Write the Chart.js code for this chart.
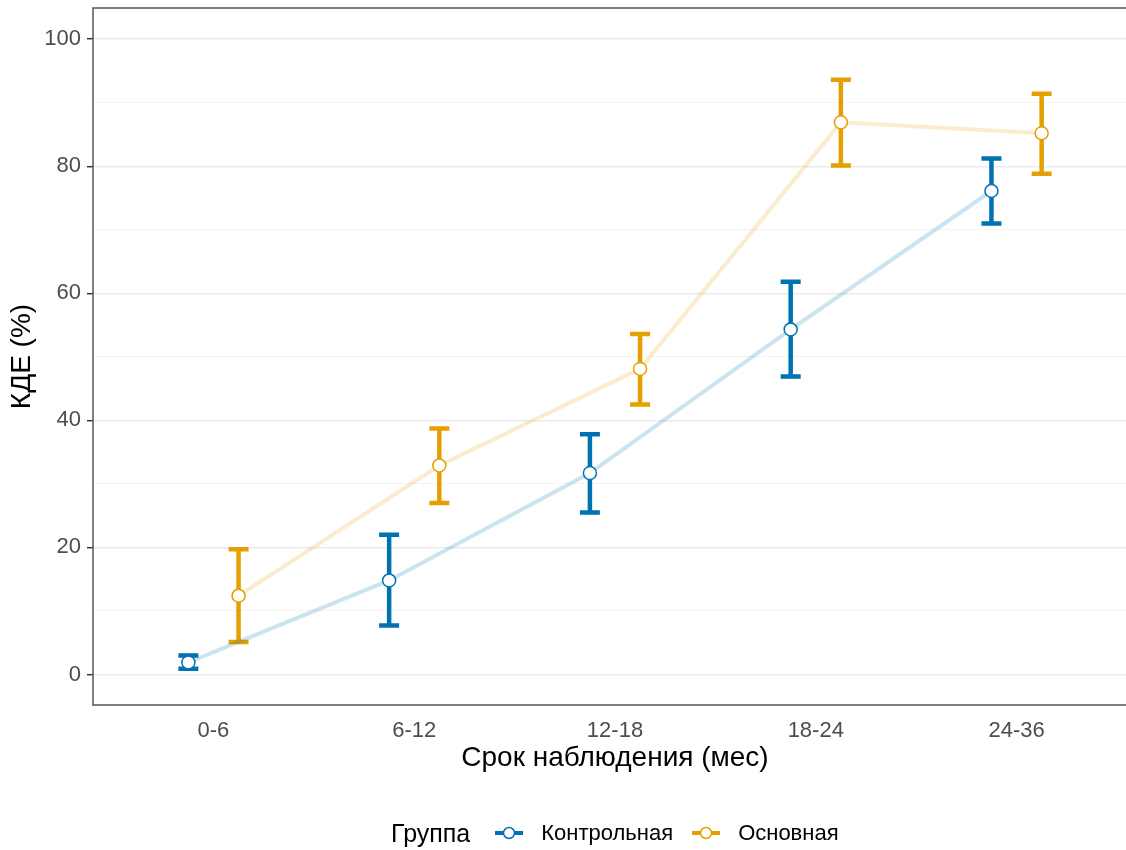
<!DOCTYPE html>
<html>
<head>
<meta charset="utf-8">
<script src="https://cdn.jsdelivr.net/npm/chart.js@4/dist/chart.umd.min.js"></script>
<style>
  html, body { margin: 0; background: #fff; overflow: hidden; font-family: "Liberation Sans", Arial, sans-serif; }
  #wrap { position: relative; width: 1126px; height: 850px; overflow: hidden; }
  #legend { position: absolute; left: 391px; top: 817px; height: 32px; display: flex; align-items: center; color: #000; white-space: nowrap; }
  #legend .title { font-size: 25px; margin-right: 25px; }
  #legend .item { display: flex; align-items: center; font-size: 22px; margin-right: 19px; }
  #legend svg { margin-right: 18px; }
</style>
</head>
<body>
<div id="wrap">
  <canvas id="chart" width="1137" height="850"></canvas>
  <div id="legend"></div>
</div>
<script>
// данные
const categories = ['0-6', '6-12', '12-18', '18-24', '24-36'];
const groupNames = ['Контрольная', 'Основная'];
const controlMean = [1.9, 14.8, 31.7, 54.3, 76.1];
const controlLow = [0.9, 7.7, 25.5, 46.9, 71.0];
const controlHigh = [3.0, 22.0, 37.8, 61.8, 81.2];
const mainMean = [12.4, 32.9, 48.1, 86.9, 85.2];
const mainLow = [5.1, 27.0, 42.5, 80.1, 78.8];
const mainHigh = [19.7, 38.7, 53.6, 93.6, 91.4];
const yTicks = [0, 10, 20, 30, 40, 50, 60, 70, 80, 90, 100];

const colors = ['#0072B2', '#E69F00'];
const fadedColors = ['rgba(0,114,178,0.2)', 'rgba(230,159,0,0.2)'];
const dodge = 0.125;

function makePoints(means, lows, highs, shift) {
    return means.map((m, i) => ({ x: i + 1 + shift, y: m, low: lows[i], high: highs[i] }));
}

const series = [
    makePoints(controlMean, controlLow, controlHigh, -dodge),
    makePoints(mainMean, mainLow, mainHigh, dodge)
];

// усы ошибок под линиями
const errorBars = {
    id: 'errorBars',
    beforeDatasetsDraw(chart) {
        const { ctx, scales: { x, y } } = chart;
        ctx.save();
        ctx.lineWidth = 4.5;
        ctx.lineCap = 'butt';
        chart.data.datasets.forEach((ds, di) => {
            ctx.strokeStyle = colors[di];
            ds.data.forEach(p => {
                const px = x.getPixelForValue(p.x);
                const yl = y.getPixelForValue(p.low);
                const yh = y.getPixelForValue(p.high);
                ctx.beginPath();
                ctx.moveTo(px, yl); ctx.lineTo(px, yh);
                ctx.moveTo(px - 10, yl); ctx.lineTo(px + 10, yl);
                ctx.moveTo(px - 10, yh); ctx.lineTo(px + 10, yh);
                ctx.stroke();
            });
        });
        ctx.restore();
    }
};

// рамка панели
const panelBorder = {
    id: 'panelBorder',
    afterDraw(chart) {
        const { ctx, chartArea: a } = chart;
        ctx.save();
        ctx.strokeStyle = '#555';
        ctx.lineWidth = 1.5;
        ctx.strokeRect(a.left, a.top, a.right - a.left, a.bottom - a.top);
        ctx.restore();
    }
};

const ctx = document.getElementById('chart').getContext('2d');
new Chart(ctx, {
    type: 'line',
    data: {
        datasets: series.map((pts, i) => ({
            label: groupNames[i],
            data: pts,
            borderColor: fadedColors[i],
            borderWidth: 4,
            pointRadius: 6.5,
            pointBorderWidth: 1.5,
            pointBackgroundColor: '#fff',
            pointBorderColor: colors[i],
            tension: 0
        }))
    },
    options: {
        responsive: false,
        animation: false,
        layout: { autoPadding: false, padding: { top: 8, right: 0, left: 0, bottom: 0 } },
        plugins: { legend: { display: false }, tooltip: { enabled: false } },
        scales: {
            x: {
                type: 'linear',
                min: 0.4,
                max: 5.6,
                afterFit: s => { s.height = 145; s.paddingLeft = 0; s.paddingRight = 0; },
                afterBuildTicks: s => { s.ticks = categories.map((_, i) => ({ value: i + 1 })); },
                grid: { display: false, drawTicks: false },
                border: { display: false },
                ticks: {
                    padding: 13,
                    color: '#4d4d4d',
                    font: { family: 'Liberation Sans', size: 22 },
                    maxRotation: 0,
                    callback: v => categories[v - 1]
                },
                title: {
                    display: true,
                    text: 'Срок наблюдения (мес)',
                    color: '#000',
                    font: { family: 'Liberation Sans', size: 28 },
                    padding: { top: 0, bottom: 75 }
                }
            },
            y: {
                type: 'linear',
                min: -4.8,
                max: 104.9,
                afterFit: s => { s.width = 93; s.paddingTop = 0; s.paddingBottom = 0; },
                afterBuildTicks: s => { s.ticks = yTicks.map(v => ({ value: v })); },
                grid: {
                    color: c => (c.tick && c.tick.value % 20 === 0) ? '#ebebeb' : '#f3f3f3',
                    lineWidth: c => (c.tick && c.tick.value % 20 === 0) ? 1.4 : 0.9,
                    tickColor: c => (c.tick && c.tick.value % 20 === 0) ? '#333' : 'rgba(0,0,0,0)',
                    tickLength: 6,
                    tickWidth: 1.5
                },
                border: { display: false },
                ticks: {
                    padding: 6,
                    color: '#4d4d4d',
                    font: { family: 'Liberation Sans', size: 22 },
                    callback: v => (v % 20 === 0 ? String(v) : '')
                },
                title: {
                    display: true,
                    text: 'КДЕ (%)',
                    color: '#000',
                    font: { family: 'Liberation Sans', size: 28 },
                    padding: { top: 5, bottom: 0 }
                }
            }
        }
    },
    plugins: [errorBars, panelBorder]
});

// легенда внизу
const legend = document.getElementById('legend');
let html = '<span class="title">Группа</span>';
groupNames.forEach((name, i) => {
    html += '<span class="item"><svg width="28" height="16">' +
        '<line x1="0" y1="8" x2="28" y2="8" stroke="' + colors[i] + '" stroke-width="4"/>' +
        '<circle cx="14" cy="8" r="5.5" fill="#fff" stroke="' + colors[i] + '" stroke-width="1.5"/>' +
        '</svg>' + name + '</span>';
});
legend.innerHTML = html;
</script>
</body>
</html>
